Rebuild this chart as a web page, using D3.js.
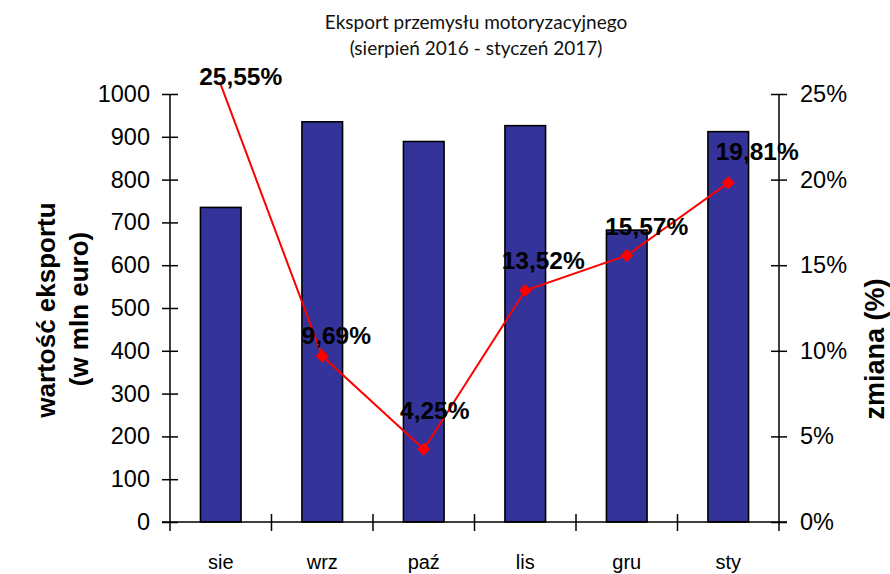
<!DOCTYPE html>
<html>
<head>
<meta charset="utf-8">
<script src="https://cdn.jsdelivr.net/npm/d3@7"></script>
<style>
  body { margin: 0; background: #fff; }
  svg { display: block; }
  .tick text { font-family: "Liberation Sans", Arial, sans-serif; }
</style>
</head>
<body>
<div id="chart"></div>
<script>
// months (Aug 2016 - Jan 2017)
var months = ["sie", "wrz", "paź", "lis", "gru", "sty"];
// export value, mln euro
var exportValues = [735, 935, 889, 926, 682, 912];
// change, %
var changeValues = [25.55, 9.69, 4.25, 13.52, 15.57, 19.81];
var changeLabels = ["25,55%", "9,69%", "4,25%", "13,52%", "15,57%", "19,81%"];
var leftTicks = [0, 100, 200, 300, 400, 500, 600, 700, 800, 900, 1000];
var rightTicks = [0, 5, 10, 15, 20, 25];

// label nudges relative to the point (as placed in the original)
var labelNudge = [[20, 0], [14, -12], [11, -30], [18, -22], [20, -20], [29, -23]];

var W = 890, H = 574;
var margin = {top: 94, right: 111, bottom: 52, left: 170},
    width = W - margin.left - margin.right,
    height = H - margin.top - margin.bottom;

var svg = d3.select("#chart").append("svg")
    .attr("width", W)
    .attr("height", H);

var g = svg.append("g")
    .attr("transform", "translate(" + margin.left + "," + margin.top + ")");

var x = d3.scaleBand()
    .domain(months)
    .range([0, width])
    .paddingInner(0.6)
    .paddingOuter(0.3);

var y = d3.scaleLinear().domain([0, 1000]).range([height, 0]);
var y2 = d3.scaleLinear().domain([0, 25]).range([height, 0]);

// title
var title = svg.append("text")
    .attr("x", 476)
    .attr("text-anchor", "middle")
    .style("font-family", "Lato, 'Open Sans', sans-serif")
    .style("font-size", "19px")
    .style("fill", "#111");
title.append("tspan").attr("x", 476).attr("y", 29).text("Eksport przemysłu motoryzacyjnego");
title.append("tspan").attr("x", 476).attr("y", 55).text("(sierpień 2016 - styczeń 2017)");

// bars
g.selectAll(".bar")
    .data(exportValues)
  .enter().append("rect")
    .attr("class", "bar")
    .attr("x", function(d, i) { return x(months[i]); })
    .attr("width", x.bandwidth())
    .attr("y", function(d) { return y(d); })
    .attr("height", function(d) { return height - y(d); })
    .attr("fill", "#333399")
    .attr("stroke", "#000")
    .attr("stroke-width", 1.6);

// left axis
var yAxis = d3.axisLeft(y).tickValues(leftTicks).tickSize(0).tickPadding(20)
    .tickFormat(d3.format("d"));
var gy = g.append("g").call(yAxis);
gy.select(".domain").remove();
gy.selectAll(".tick text").style("font-size", "23.5px").attr("fill", "#000");
gy.selectAll(".tick").append("line")
    .attr("x1", -8).attr("x2", 8)
    .attr("stroke", "#000").attr("stroke-width", 1.5);
gy.append("line")
    .attr("y1", 0).attr("y2", height + 9)
    .attr("stroke", "#000").attr("stroke-width", 1.5);

// right axis
var yAxis2 = d3.axisRight(y2).tickValues(rightTicks).tickSize(0)
    .tickPadding(21)
    .tickFormat(function(d) { return d + "%"; });
var gy2 = g.append("g").attr("transform", "translate(" + width + ",0)").call(yAxis2);
gy2.select(".domain").remove();
gy2.selectAll(".tick text").style("font-size", "23.5px").attr("fill", "#000");
gy2.selectAll(".tick").append("line")
    .attr("x1", -8).attr("x2", 8)
    .attr("stroke", "#000").attr("stroke-width", 1.5);
gy2.append("line")
    .attr("y1", 0).attr("y2", height + 9)
    .attr("stroke", "#000").attr("stroke-width", 1.5);

// x axis
var xAxis = d3.axisBottom(x).tickSize(0).tickPadding(33);
var gx = g.append("g").attr("transform", "translate(0," + height + ")").call(xAxis);
gx.select(".domain").remove();
gx.selectAll(".tick text").style("font-size", "20px").attr("fill", "#000");
gx.append("line")
    .attr("x1", -8).attr("x2", width + 8)
    .attr("stroke", "#000").attr("stroke-width", 1.5);
gx.selectAll(".sep")
    .data(d3.range(1, months.length))
  .enter().append("line")
    .attr("class", "sep")
    .attr("x1", function(i) { return i * x.step(); })
    .attr("x2", function(i) { return i * x.step(); })
    .attr("y1", -8).attr("y2", 9)
    .attr("stroke", "#000").attr("stroke-width", 1.5);

// axis titles
svg.append("text")
    .attr("transform", "translate(55,310) rotate(-90)")
    .attr("text-anchor", "middle")
    .style("font-family", "'Liberation Sans', Arial, sans-serif")
    .style("font-weight", "bold")
    .style("font-size", "26px")
    .text("wartość eksportu");
svg.append("text")
    .attr("transform", "translate(88,309) rotate(-90)")
    .attr("text-anchor", "middle")
    .style("font-family", "'Liberation Sans', Arial, sans-serif")
    .style("font-weight", "bold")
    .style("font-size", "26px")
    .text("(w mln euro)");
svg.append("text")
    .attr("transform", "translate(884,349) rotate(-90)")
    .attr("text-anchor", "middle")
    .style("font-family", "'Liberation Sans', Arial, sans-serif")
    .style("font-weight", "bold")
    .style("font-size", "27px")
    .text("zmiana (%)");

// change line
var cx = function(i) { return x(months[i]) + x.bandwidth() / 2; };
var line = d3.line()
    .x(function(d, i) { return cx(i); })
    .y(function(d) { return y2(d); });

g.append("path")
    .datum(changeValues)
    .attr("fill", "none")
    .attr("stroke", "#ff0000")
    .attr("stroke-width", 2)
    .attr("d", line);

// markers (points above the axis maximum are clipped, as in the original)
g.selectAll(".marker")
    .data(changeValues)
  .enter().filter(function(d) { return d <= y2.domain()[1]; })
  .append("path")
    .attr("class", "marker")
    .attr("d", d3.symbol().type(d3.symbolSquare).size(85))
    .attr("transform", function(d) {
      var i = changeValues.indexOf(d);
      return "translate(" + cx(i) + "," + y2(d) + ") rotate(45)";
    })
    .attr("fill", "#ff0000");

// data labels
g.selectAll(".dlabel")
    .data(changeValues)
  .enter().append("text")
    .attr("class", "dlabel")
    .attr("x", function(d, i) { return cx(i) + labelNudge[i][0]; })
    .attr("y", function(d, i) { return y2(d) + labelNudge[i][1]; })
    .attr("text-anchor", "middle")
    .style("font-family", "'Liberation Sans', Arial, sans-serif")
    .style("font-weight", "bold")
    .style("font-size", "24.5px")
    .text(function(d, i) { return changeLabels[i]; });
</script>
</body>
</html>
